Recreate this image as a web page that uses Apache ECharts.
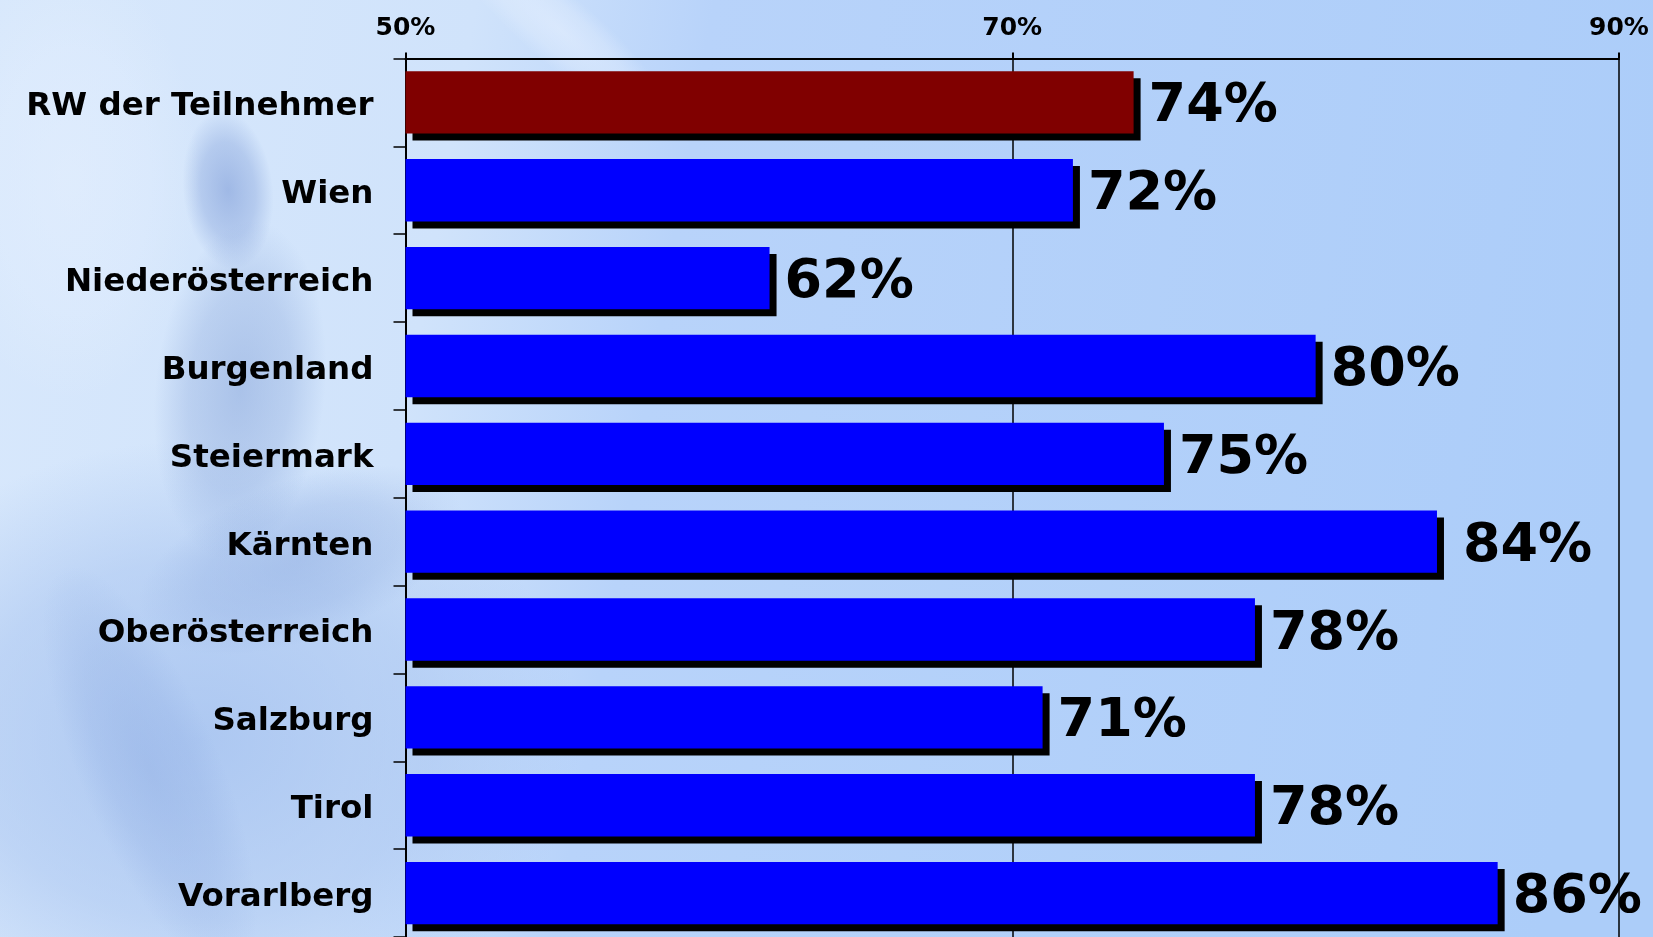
<!DOCTYPE html>
<html>
<head>
<meta charset="utf-8">
<script src="https://cdn.jsdelivr.net/npm/echarts@6/dist/echarts.min.js"></script>
<style>
html,body{margin:0;padding:0;width:100%;height:100%;overflow:hidden;}
#chart{width:1653px;height:937px;}
</style>
</head>
<body>
<div id="chart"></div>
<script>
const categories = ['RW der Teilnehmer','Wien','Niederösterreich','Burgenland','Steiermark','Kärnten','Oberösterreich','Salzburg','Tirol','Vorarlberg'];
const values = [74, 72, 62, 80, 75, 84, 78, 71, 78, 86];
const axisMin = 50, axisMax = 90, axisStep = 20;

const FONT = '"DejaVu Sans", Verdana, sans-serif';
const chart = echarts.init(document.getElementById('chart'));

const data = values.map((v, i) => ({
  value: v,
  itemStyle: { color: i === 0 ? '#800000' : '#0000FF' },
  label: i === 5 ? { distance: 26 } : undefined
}));

// soft background blobs (decorative blurred runner silhouette)
function blob(cx, cy, rx, ry, rot, rgb, a) {
  return {
    type: 'circle', z: -10, silent: true,
    x: cx, y: cy, rotation: rot, scaleX: rx / 100, scaleY: ry / 100,
    shape: { cx: 0, cy: 0, r: 100 },
    style: { fill: { type: 'radial', x: 0.5, y: 0.5, r: 0.5,
      colorStops: [
        { offset: 0, color: 'rgba(' + rgb + ',' + a + ')' },
        { offset: 0.6, color: 'rgba(' + rgb + ',' + (a * 0.6) + ')' },
        { offset: 1, color: 'rgba(' + rgb + ',0)' }] } }
  };
}

chart.setOption({
  animation: false,
  backgroundColor: {
    type: 'linear', x: 0, y: 0, x2: 1, y2: 0.3,
    colorStops: [
      { offset: 0, color: '#d8e8fc' },
      { offset: 0.28, color: '#d0e3fb' },
      { offset: 0.42, color: '#b8d3fa' },
      { offset: 1, color: '#accdf9' }
    ]
  },
  graphic: [
    blob(200, 740, 380, 300, 0, '160,190,238', 0.75),
    blob(228, 190, 45, 80, 0.1, '125,155,215', 0.6),
    blob(240, 390, 85, 170, -0.1, '130,160,215', 0.5),
    blob(300, 560, 170, 80, 0.35, '135,165,220', 0.4),
    blob(150, 770, 70, 220, 0.4, '140,170,225', 0.4),
    blob(560, 30, 140, 35, -0.7, '235,243,255', 0.5),
    blob(70, 180, 130, 220, 0, '235,243,255', 0.4)
  ],
  grid: { left: 405.5, right: 34, top: 58.5, bottom: -3, containLabel: false },
  xAxis: {
    type: 'value', position: 'top', min: axisMin, max: axisMax, interval: axisStep,
    axisLine: { show: true, lineStyle: { color: '#000', width: 2 } },
    axisTick: { show: true, length: 6, lineStyle: { color: '#000', width: 2 } },
    axisLabel: { margin: 18, formatter: '{value}%', color: '#000', fontFamily: FONT, fontWeight: 'bold', fontSize: 25 },
    splitLine: { show: true, lineStyle: { color: '#000', width: 1.5 } }
  },
  yAxis: {
    type: 'category', inverse: true, data: categories,
    axisLine: { show: true, lineStyle: { color: '#000', width: 2 } },
    axisTick: { show: true, length: 12, lineStyle: { color: '#000', width: 1.5 } },
    axisLabel: {
      margin: 32, formatter: '{a|{value}}',
      rich: { a: { color: '#000', fontFamily: FONT, fontWeight: 'bold', fontSize: 32.5, padding: [9, 0, 0, 0] } }
    }
  },
  series: [{
    type: 'bar', data: data, barCategoryGap: '29%',
    itemStyle: { borderWidth: 0, shadowColor: '#000', shadowBlur: 0, shadowOffsetX: 7, shadowOffsetY: 7 },
    label: { show: true, position: 'right', distance: 15, offset: [0, 5], formatter: '{c}%', color: '#000', fontFamily: FONT, fontWeight: 'bold', fontSize: 54 }
  }]
});
</script>
</body>
</html>
